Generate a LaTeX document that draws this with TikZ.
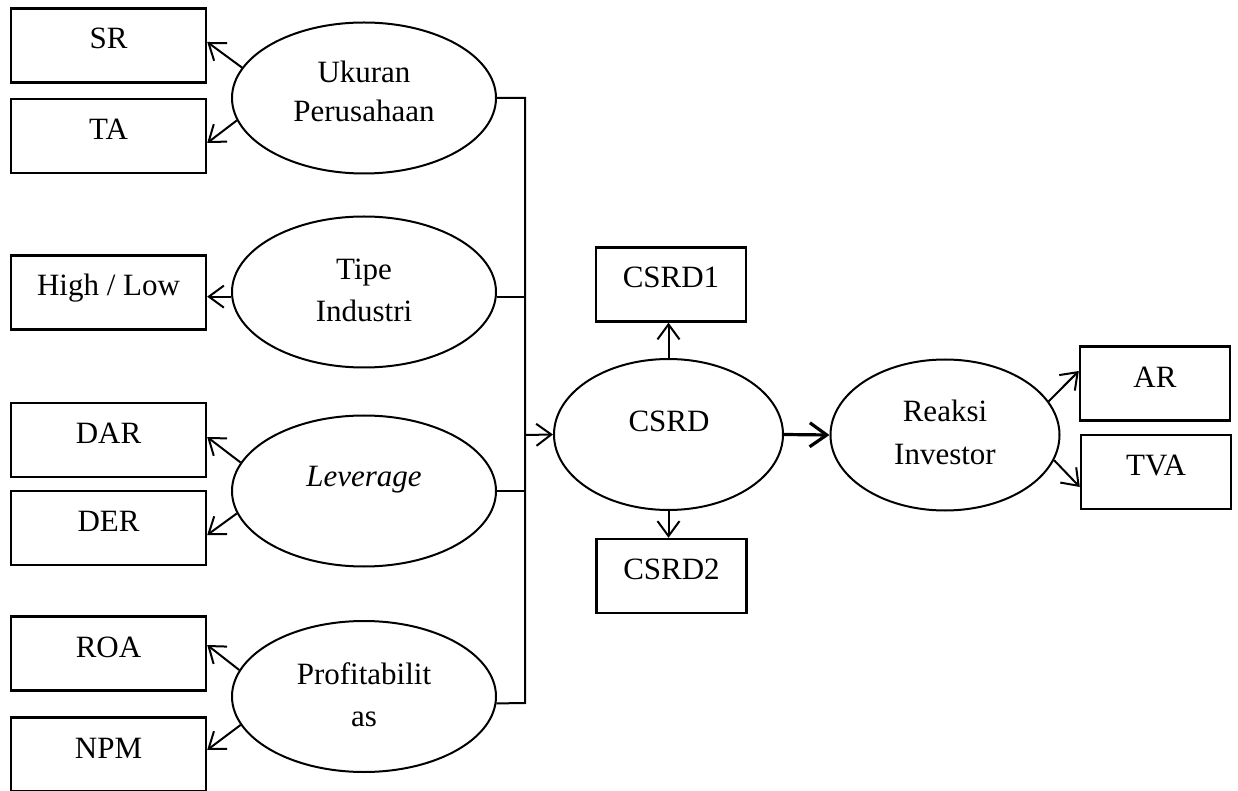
\documentclass[tikz,border=0pt]{standalone}
\usepackage{fontspec}
\setmainfont{Liberation Serif}
\usetikzlibrary{arrows.meta,shapes.geometric}
\begin{document}
\begin{tikzpicture}[x=0.5pt,y=-0.5pt,
  txtfont/.style={font=\fontsize{15.5}{18}\selectfont},
  box/.style={draw,line width=1.2pt,minimum width=97.5pt,minimum height=37pt,inner sep=0pt,
    text height=11.5pt,text depth=8pt,txtfont},
  sbox/.style={box,minimum width=75pt},
  oval/.style={draw,ellipse,line width=1pt,inner sep=0pt,minimum width=132pt,minimum height=75.5pt},
  soval/.style={oval,minimum width=114.5pt},
  lbl/.style={anchor=base,inner sep=0pt,txtfont},
  line/.style={line width=1pt},
  arr/.style={line width=1pt,-{Straight Barb[length=7.5pt,width=11pt]}},
  tarr/.style={line width=1.6pt,-{Straight Barb[length=8.5pt,width=12pt]}}]
\useasboundingbox (0,0) rectangle (1238,791);
% left boxes
\node[box] (sr)  at (108.5,45.5)  {SR};
\node[box] (ta)  at (108.5,136)   {TA};
\node[box] (hl)  at (108.5,292.5) {High / Low};
\node[box] (dar) at (108.5,440)   {DAR};
\node[box] (der) at (108.5,528)   {DER};
\node[box] (roa) at (108.5,653.5) {ROA};
\node[box] (npm) at (108.5,754.5) {NPM};
% left ellipses
\node[oval] (uk) at (364,98) {};
\node[oval] (ti) at (364,292) {};
\node[oval] (lv) at (364,491) {};
\node[oval] (pr) at (364,696.5) {};
\node[lbl] (ukA) at (364,83)  {Ukuran};
\node[lbl] (ukB) at (364,122) {Perusahaan};
\node[lbl] (tiA) at (364,280) {Tipe};
\node[lbl] (tiB) at (364,322) {Industri};
\node[lbl] (lvA) at (364,487) {\itshape Leverage};
\node[lbl] (prA) at (364,684) {Profitabilit};
\node[lbl] (prB) at (364,726) {as};
% centre
\node[soval] (cs) at (668.5,434.5) {};
\node[lbl] (csA) at (669,431) {CSRD};
\node[sbox] (cs1) at (671,284.5) {CSRD1};
\node[sbox] (cs2) at (671.5,576) {CSRD2};
% right
\node[soval] (re) at (945,435) {};
\node[lbl] (reA) at (945,422) {Reaksi};
\node[lbl] (reB) at (945,465) {Investor};
\node[sbox] (ar)  at (1155,383.5) {AR};
\node[sbox] (tva) at (1156,472)   {TVA};
% junction
\coordinate (jtop) at (525,98);
\coordinate (jbot) at (525,703);
\coordinate (jmid) at (525,435);
\draw[line] (uk.east) -- (jtop) -- (jbot) -- (pr.-3);
\draw[line] (ti.-2) -- (ti.-2 -| jtop);
\draw[line] (lv.east) -- (lv.east -| jtop);
\draw[arr] (jmid) -- (cs.west);
\draw[tarr] (cs.east) -- (re.west);
\draw[arr] (cs.north) -- (cs.north |- cs1.south);
\draw[arr] (cs.south) -- (cs.south |- cs2.north);
\draw[arr] (re.18) -- (ar.west |- 0,371);
\draw[arr] (re.-13) -- (tva.west |- 0,487);
% left arrows
\draw[arr] (uk.166) -- (sr.east |- 0,42);
\draw[arr] (uk.190) -- (ta.east |- 0,143);
\draw[arr] (ti.182) -- (ti.182 -| hl.east);
\draw[arr] (lv.167) -- (dar.east |- 0,437);
\draw[arr] (lv.190) -- (der.east |- 0,535);
\draw[arr] (pr.168) -- (roa.east |- 0,645);
\draw[arr] (pr.193) -- (npm.east |- 0,750);
\end{tikzpicture}
\end{document}
